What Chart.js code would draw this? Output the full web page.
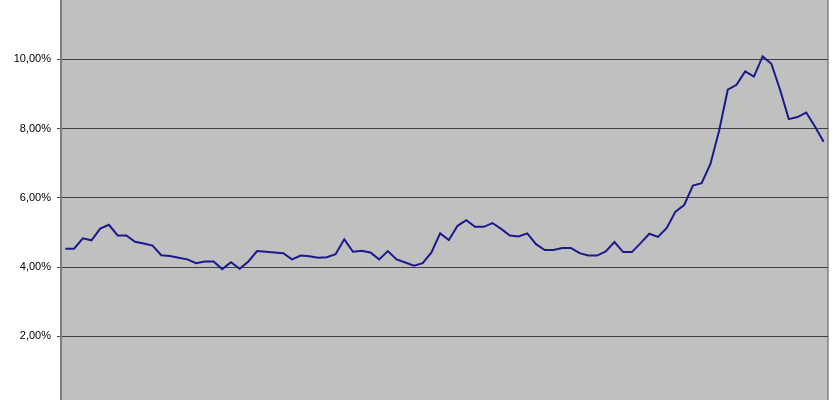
<!DOCTYPE html>
<html>
<head>
<meta charset="utf-8">
<script src="https://cdn.jsdelivr.net/npm/chart.js@4.4.1/dist/chart.umd.min.js"></script>
<style>
  html, body { margin: 0; padding: 0; background: #ffffff; }
  #chart { display: block; }
</style>
</head>
<body>
<canvas id="chart" width="840" height="400"></canvas>
<script>
// periods (no labels are visible on the x axis)
const periods = Array.from({ length: 88 }, (_, i) => 'P' + (i + 1));

// rate in percent
const rateValues = [
    4.53, 4.53, 4.83, 4.77, 5.11, 5.22, 4.91, 4.91, 4.73, 4.68,
    4.62, 4.34, 4.32, 4.27, 4.22, 4.11, 4.16, 4.16, 3.94, 4.14,
    3.95, 4.16, 4.46, 4.44, 4.42, 4.40, 4.22, 4.33, 4.31, 4.27,
    4.28, 4.37, 4.80, 4.44, 4.47, 4.42, 4.22, 4.46, 4.22, 4.13,
    4.04, 4.11, 4.42, 4.97, 4.78, 5.19, 5.35, 5.16, 5.16, 5.27,
    5.10, 4.91, 4.88, 4.97, 4.66, 4.49, 4.49, 4.55, 4.55, 4.40,
    4.33, 4.33, 4.45, 4.72, 4.43, 4.43, 4.69, 4.96, 4.87, 5.13,
    5.60, 5.79, 6.35, 6.42, 6.97, 7.93, 9.12, 9.26, 9.65, 9.50,
    10.08, 9.87, 9.12, 8.27, 8.33, 8.46, 8.06, 7.62
];

const yTicks = [2, 4, 6, 8, 10];

// grey plot area plus the thin frame on the right
const plotBackground = {
    id: 'plotBackground',
    beforeDraw(chart) {
        const { ctx, chartArea: a } = chart;
        ctx.save();
        ctx.fillStyle = '#c0c0c0';
        ctx.fillRect(a.left, a.top, a.right - a.left, a.bottom - a.top);
        ctx.strokeStyle = '#808080';
        ctx.lineWidth = 1.5;
        ctx.beginPath();
        ctx.moveTo(a.right, a.top);
        ctx.lineTo(a.right, a.bottom);
        ctx.stroke();
        ctx.restore();
    }
};

const ctx = document.getElementById('chart').getContext('2d');

new Chart(ctx, {
    type: 'line',
    data: {
        labels: periods,
        datasets: [{
            data: rateValues,
            borderColor: '#1a1a8c',
            borderWidth: 2,
            pointRadius: 0,
            tension: 0,
            fill: false
        }]
    },
    options: {
        responsive: false,
        maintainAspectRatio: false,
        animation: false,
        layout: { padding: { left: 0, right: 12, top: 0, bottom: 0 } },
        plugins: {
            legend: { display: false },
            tooltip: { enabled: false }
        },
        scales: {
            x: {
                display: false,
                offset: true
            },
            y: {
                min: 0.16,
                max: 11.71,
                afterBuildTicks: (scale) => {
                    scale.ticks = yTicks.map(v => ({ value: v }));
                },
                afterFit: (scale) => {
                    scale.width = 61;
                    scale.paddingTop = 0;
                    scale.paddingBottom = 0;
                },
                grid: {
                    color: '#404040',
                    lineWidth: 1,
                    tickLength: 4,
                    tickColor: '#404040'
                },
                border: { color: '#808080', width: 2 },
                ticks: {
                    padding: 6,
                    color: '#000000',
                    font: { family: 'Liberation Sans', size: 11 },
                    callback: (v) => v.toFixed(2).replace('.', ',') + '%'
                }
            }
        }
    },
    plugins: [plotBackground]
});
</script>
</body>
</html>
